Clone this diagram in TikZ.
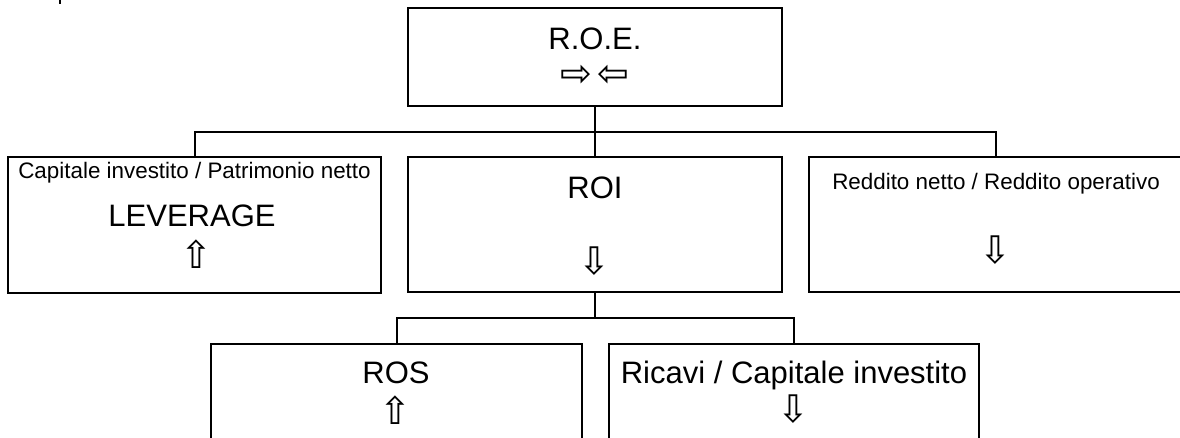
\documentclass[tikz,border=0pt]{standalone}
\usepackage{fontspec}
\setmainfont{Liberation Sans}
\newfontfamily\arrowfont{DejaVu Sans}
\begin{document}
\begin{tikzpicture}[x=1pt,y=-1pt,
  box/.style={draw=black,line width=2pt,rectangle,inner sep=0pt,minimum width=#1},
  link/.style={draw=black,line width=2pt},
  big/.style={font=\fontsize{31}{37}\selectfont,inner sep=0pt,anchor=base},
  small/.style={font=\fontsize{22.4}{26}\selectfont,inner sep=0pt,anchor=base},
  arr/.style={font=\arrowfont\fontsize{38}{40}\selectfont,inner sep=0pt,anchor=center}]
\clip (0,0) rectangle (1180,437);
\useasboundingbox (0,0) rectangle (1180,437);
\fill[white] (0,0) rectangle (1180,437);
% boxes
\node[box=374pt,minimum height=98pt] (roe) at (595,57) {};
\node[box=373pt,minimum height=136pt] (lev) at (194.5,225) {};
\node[box=374pt,minimum height=135pt] (roi) at (595,224.5) {};
\node[box=374pt,minimum height=135pt] (red) at (996,224.5) {};
\node[box=371pt,minimum height=136pt] (ros) at (396.5,412) {};
\node[box=370pt,minimum height=136pt] (ric) at (794,412) {};
% texts
\node[big] (troe) at (595,49) {R.O.E.};
\node[arr] (aroe) at (595,76) {⇨\kern5pt⇦};
\node[small] (tlev1) at (194.5,178) {Capitale investito / Patrimonio netto};
\node[big] (tlev2) at (192,226) {LEVERAGE};
\node[arr] (alev) at (196,254) {⇧};
\node[big] (troi) at (595,198) {ROI};
\node[arr] (aroi) at (594,261) {⇩};
\node[small] (tred) at (996,189) {Reddito netto / Reddito operativo};
\node[arr] (ared) at (995,250) {⇩};
\node[big] (tros) at (396,383) {ROS};
\node[arr] (aros) at (395,410) {⇧};
\node[big] (tric) at (794,383) {Ricavi / Capitale investito};
\node[arr] (aric) at (793,409) {⇩};
% connectors
\coordinate (bus1) at (595,132);
\coordinate (bus2) at (595,318);
\draw[link] (roe.south) -- (roi.north);
\draw[link] (lev.north) |- (bus1) -| (red.north);
\draw[link] (roi.south) -- (bus2);
\draw[link] (ros.north) |- (bus2) -| (ric.north);
% stray mark at top edge
\coordinate (m1) at (60,0);
\coordinate (m2) at (60,4);
\draw[link] (m1) -- (m2);
\end{tikzpicture}
\end{document}
